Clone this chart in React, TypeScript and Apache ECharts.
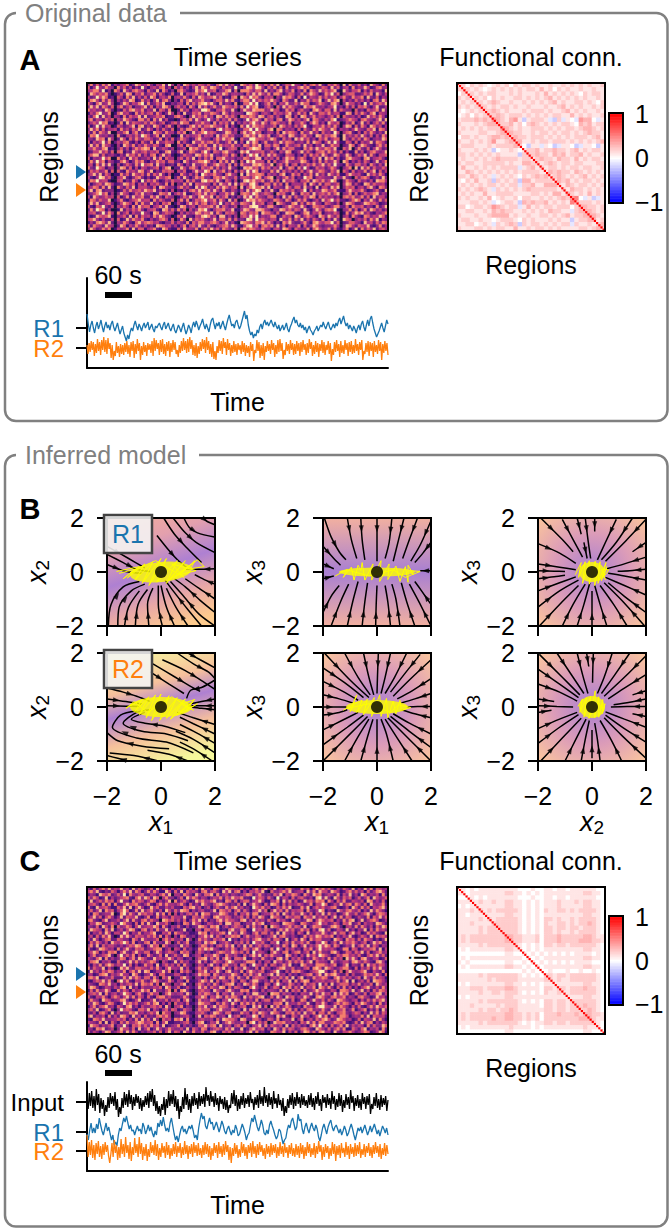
import React, { useEffect, useRef } from "react";
import * as echarts from "echarts";

const FONT = '"Liberation Sans", Arial, sans-serif';

const heatA = [
"3725164836 2457138624 7315482962 4187353642 5216748351 3862417536 2748136594 3152674821 5364281743 6241853172",
"6148327451 7362514283 1453672418 3625148375 2874163529 4136527841 5382617243 6847213365 1726345182 4385126734",
"4576281329 5184267531 6328174152 6743128569 3561247816 2775314628 1436825371 4261753846 3571284265 7152634318",
"1863547213 3628715462 4572631283 2816457341 7125386244 5314162853 6287413652 3715864127 4826135672 2364718425",
"5238476142 6417382516 2861453726 5374162853 4683512167 1862745315 3514286741 6182543736 2451673284 5718326143",
"2784163751 4253871263 5148267315 1627834562 2146538472 3575182646 4863175228 1427365814 7368152436 3524167285",
"6315724861 1386254782 7236481154 4518263778 5831624317 2164738125 6271548336 3856124753 1674238562 4192735648",
"3847165282 5724613348 2615387426 6352741825 1473286546 4728356114 5316284753 2175684342 3482516271 6573148224",
"7452318640 2163785462 4381652712 2736145389 6215473382 1483265773 3865127461 4623178526 5172843316 2316457283",
"1536824713 6845217353 5627413861 4183265714 3764185253 5318642145 2174536823 7351842664 6245318726 3742681543",
"4268173526 3172645818 2346571248 7521384636 2518637463 2763541872 4635218715 1862473542 3517264352 5128463741",
"5724316482 5386421763 6173825132 1564728413 8426153726 4138256417 3526714863 5248176325 2681435764 1674325828",
"2463857140 2718365426 3752461278 3867125463 3172546281 6251473385 1685342714 4731586241 7436215381 3825146372",
"6138274523 6423581772 4286315741 5213684725 5864327141 1738264563 2471863526 3682145473 5263148726 2741863514",
"3846152467 1735264813 7415263282 2638745163 2317846525 3264817542 5817624341 6153274864 2751634258 4326581763",
"5271643820 4368157242 3186527463 6471283569 4652138734 1582473612 3426185764 1724835163 3185246731 5163742428",
"1768324251 7214536387 5247183412 1826345714 3518267452 4276351864 6134752873 2563418736 4672183546 3842615274",
"4327561862 2851637426 6423715283 3754126832 2147385681 2631874553 4872163518 5836241647 1356284273 6275134386",
"6152483714 5367214153 2718346561 7253184463 5736124728 3518264137 1263847652 3417286514 7284316526 1534827642",
"2836175430 4186372527 4365217822 4618532746 1283645473 6274153816 5386127435 6273514382 2645123871 4863215736",
"5473268142 3625147568 7182354261 2351867424 6472813565 1423586714 3158274662 2164738547 5371264813 7326148523",
"1254736281 6713285346 3546127843 5814763258 3165278431 4867123562 2641538712 4826315673 6352814127 2513674348",
"3687152364 1428563715 2671483531 1365428736 4823156274 2513847263 7483216541 3152746385 1276438523 6482731556",
"6142385720 7351846223 5283716462 4627381515 2716584342 5374126815 2536148672 5741263818 4615327864 3178245631",
"2738461553 2684137562 1437562684 3186245768 5241637283 1628473551 6172358434 4863152726 2374186152 5264138247",
"4516273841 5136427385 6728341253 7415283346 1368452716 3742165863 3814627156 1526473583 5283417436 6351742528",
"7328541362 3872615144 2356147814 2853674153 4726153832 2185634274 5263814761 7384126452 3642135718 1847263364",
"1645237180 6217453862 4813265671 5362148438 6183472516 4637285143 1748263525 2615834763 1538264172 4372581625",
"3582716423 1736285452 7264831523 1743526185 3574216843 2816345761 4352681274 6143728352 7426315864 5218463741",
"5213874630 4582136721 3128546714 6284137562 2167485336 3563148725 6814257361 3286714543 2174583216 3675124283",
"2768345121 5613274183 6473125386 4518362278 5748216415 1287463572 2736184563 1547286473 4861237541 6342518774",
"6134528763 2387461526 1546327182 3274816543 3162754828 4751683126 5283617144 4361852726 5236148735 2187364452",
"3475162840 7426381545 3261874353 5736218486 1427386356 2813574683 7164328526 6273418155 1748236571 4526831763",
"4826713351 1263745638 6582413171 2153674825 6384172253 3526147815 2831756462 3581624387 3462315864 5731246218",
"2356847162 3854126473 4312765836 6482135737 2651347482 1674285346 4317562183 1746283564 6258134726 1364578243",
"5184236470 6137284562 2748316452 1365842784 4816257131 6283715432 5624183726 3254871635 2314167583 4726183552",
"1762534823 4721356835 5173642281 4728136568 3572641826 2148563754 1386427513 7462135284 5836421378 6153842736",
"3847125641 2586417263 3824165723 5216847356 1463825374 4763182561 3518642278 2617584316 4215138762 2387564123",
"6215483271 5364172846 6145738232 2873451644 5738164235 1352678423 6742135864 4831276563 1367426185 5624317248",
"2738651420 1825364721 4562187384 7361524868 2146573481 3485216874 2153874636 5273148526 6581234736 1472863524",
"4561283762 7246153384 3187246561 1526348735 4827316563 2761435186 5436128772 1368254713 3254117268 6835214357",
"3127546830 3462817254 5274863213 6483215478 6351782414 1562837243 3781264518 6247531863 7426235184 2176354862",
"5683142271 6128375462 1423675182 2741836552 1482563726 4327618564 2561843726 3815264271 4173286513 5362748143",
"1426753840 4375216836 7645213384 5328164763 3675148241 2874315683 6423175832 2463178546 5826123674 3184526376",
"6274318562 2861537415 2318764546 1472563821 5213467385 3156824167 4738261543 7152486323 2364138752 6548213724",
"3851264723 5347182651 4572186233 6285437146 2846175326 1683542374 3165287416 4327168534 6152347148 1736482564"
];
// Activity shared by all regions at one time point: vertical bands of the raster, added to every row.
const heatAShift = [
0,0,0,1,1,1,0,0,-2,-2, 0,0,0,0,0,0,0,0,1,0, 0,0,0,0,0,0,0,0,-2,-2, 0,0,0,-1,0,0,0,0,1,1,
1,0,0,0,1,0,0,0,0,0, -2,0,0,2,2,2,2,0,0,0, 1,0,-1,0,0,0,0,0,0,0, 0,0,1,0,0,0,0,0,0,0,
1,1,1,0,-2,0,0,0,-1,0, 0,0,0,0,0,0,0,0,0,0
];
const heatC = [
"3162574836 4725183642 2618354172 5342617283 4176238554 3625147268 5381426732 2746158364 6315274281 4283716534",
"5748213265 1364827513 6374218536 2816453167 2563184726 7142536481 1632574823 4518372645 2864135736 3516247852",
"2431865724 6281743562 1542673824 4275318426 6817245143 2358614732 4263815476 3174286513 5427163824 1862435172",
"6375128143 3457216838 5286147351 3618475243 1354726385 5723184652 7318254162 5632418728 3185274613 6247185346",
"1824637562 5823174652 3761524817 2463128574 4682317526 1467235841 2546183725 1285637461 7416382254 3518724261",
"4563172718 2148567324 6215837463 5731624285 3257864132 6182475316 3874162534 6423715386 1253846727 5261843472",
"7218456312 6372815841 1846325372 2164783513 5146327268 3524186473 6125374812 2738146253 4672135185 2736154683",
"3624817562 4586127283 4732618546 3876142452 2381764515 7264135836 1483627254 5617324861 3218546743 6142837531",
"5176234481 1683742856 3528471625 1425637186 6234875126 1548267134 5736184263 3842615172 7351268436 2468315764",
"2483615742 3716548213 6127354284 4382165374 3178546423 4627153862 2864317546 6175483326 1482736512 5327164836",
"6732158234 5148273267 2643187583 5261374826 1326847453 2783516342 7316452183 4238715654 5614283781 3824675124",
"1548723465 2864316172 7318546221 3176285412 5423618736 6125374681 3542187652 1763246835 2364175823 6153428742",
"4326185271 6237515834 4586273163 6214123875 2768135146 5418263417 1864235736 5281376412 3786214527 2742516386",
"2865417382 3415872167 1527438261 2381204516 6347121583 3762184536 5213748462 3746152683 6125438241 4381627453",
"7143628516 5286143724 3681254737 5423112867 1534672835 2853147266 3627184351 6418235274 2483671583 5127463218",
"3516274821 1738426553 5472816324 1762231458 4826315476 7148326512 4581673242 1273648536 5714263821 3642817564",
"5284136723 6423175284 2346157483 3518302746 3264571823 1536247843 7265318146 2851746423 3186427562 6275413138",
"1637425186 4586271326 6173428512 6247113528 5781346215 3627185462 2548136273 4637215286 1362846574 2461385723",
"4728163554 2314658731 3856174243 2835201476 2415637381 5283714636 6134275186 1482536748 6275134382 5738264143",
"6213875342 7148326562 2467813525 4162312758 6843125274 1376258413 3728416352 3164725835 4531287165 1354672815",
"3586142768 1473258436 5138624673 1756203642 3125764386 4627183542 1583267146 7246183523 2784136526 4826135734",
"1472356821 4826371512 6423718256 3287124516 4586217335 2163574826 5742318624 1528463765 3126487453 6215748362",
"5326817243 3651472864 1284635872 5412303678 2637158416 6582143273 3416827153 6314275142 7263518484 1783245126",
"2678143512 6214837353 4762153148 2634114825 1375426863 3248761514 6183524736 4725816233 1842365278 5364217841",
"4153726864 5382614127 3518246372 6173202541 5824167235 1762385426 2651374812 1863427565 3571268143 2718463652",
"7264381521 1748326654 2637415864 3825114736 3167582416 4385216173 5124783362 3256178418 6423587216 1536274832",
"1835264763 4261573828 6124583713 1746302658 2548316724 2716843561 3468215276 7421356884 1372615843 4682153271",
"3412678254 5734186213 3841762245 5213124867 6175243386 3164725823 6827341523 1346725618 5784236152 2375648416",
"6758124363 2163847526 5273164812 2684203415 1463872572 7328146553 1452637281 5813274366 2168473524 6184273541",
"2146583721 6837215473 1586423761 4317112586 3816254173 1652478324 3726154817 2687135243 4537268181 3526187642",
"5321764835 1425638276 4726185324 3681204752 5274136681 4287365116 6158423752 4173562816 1824676253 7243618534",
"4873125426 3671824153 2354718643 6125213847 2643871526 5312684237 2364185726 3825471653 7316282514 1468325273",
"1627348512 7254163485 6183425726 1783102564 4185326742 2768143152 5431728164 6172358342 2541786382 4825163764",
"3564817246 2386415731 3745126863 4528301647 6327154183 4516278324 1876253413 1543826174 5183867126 3261547825",
"6215473158 5148372641 5216873542 2374114586 1548627376 3184625781 3627418562 4385217653 2674582431 6743128452",
"2743186524 4673125812 1482536274 6158202734 3762145828 6253417146 7142583261 2761384152 6318763245 1526374683",
"5386214763 1285746235 6378241516 3426113875 5216374184 1748362523 4265718343 6438215274 1257486316 4863251724",
"1472568342 6317824153 2564718324 5713202648 2483765151 3562174816 1836247512 3174526885 4382763152 6214738546",
"4638125721 3846521664 7153246285 1264303756 6125843276 4183756232 5271384726 1526734163 2864582371 3571426183",
"3251674183 5123768342 3648175423 4872114563 1387426512 2746153864 3864216573 6283471452 7315683246 5142837264",
"6824351726 2764183516 1326857412 2345203816 5762341835 6125487163 4317582164 2845136727 1642785134 3728165452",
"2176483345 6351427283 5283164537 6817112453 3416287564 1873256412 7526134381 4713526268 5238763412 6154382731",
"5432718164 1527346874 4617258132 2356204781 2548136753 3451782636 1285673424 1648372563 3476582126 2836714253",
"1865243572 4283165736 2746381254 7142312658 4671823415 6274135827 3642518163 5231684716 1624738253 5417263386",
"4317682351 3745261824 6138524763 3528164276 1356427382 2813674561 5184273652 3675218432 6257381164 2681435172",
"6253148724 5618374132 3462715846 5184273362 3782164523 4526817231 2763481526 1487362574 4183265742 3576124861"
];
const heatCShift = [
0,0,0,0,0,0,0,0,0,-1, 0,1,1,0,0,0,0,0,0,0, 1,0,0,0,-1,0,0,0,-2,0, 0,0,0,0,0,0,0,0,0,0,
0,0,0,0,0,0,0,1,0,0, 0,0,0,-1,0,1,0,0,0,0, -1,0,0,1,0,0,0,0,0,0, 0,0,0,0,0,0,0,2,1,0,
0,0,0,0,0,-1,0,0,0,0, 0,0,0,0,0,0,0,0,0,0
];

// Functional connectivity, 34 x 34. Each digit d stands for a correlation of (d - 2) / 10; the upper triangle is mirrored.
const fcA = [
"34243 43234 34243 44343 34334 34343 4334",
"34434 32343 43434 34435 34243 43343 3433",
"43343 43443 33434 33343 53434 34324 3443",
"34434 34243 43344 34343 45343 43434 3343",
"43343 43454 33433 43434 34534 33443 4324",
"34433 44343 44343 34333 43345 34343 3434",
"43344 34454 34333 43444 34334 53434 3343",
"34434 43445 43444 34343 43443 35343 4334",
"30213 01365 43563 03444 31041 32165 5213",
"34343 43475 44534 24543 43434 43254 5344",
"43434 34344 65434 33444 34343 44345 5434",
"34343 43453 45544 33434 43434 43434 5443",
"43434 34346 43454 43444 34343 43444 3453",
"34343 43435 44445 33434 43444 34343 4345",
"23013 30324 02314 20331 32013 32013 3203",
"34434 34353 43434 34453 44544 34534 3443",
"43343 43434 34334 44454 43545 34453 4334",
"34434 34343 43443 44345 44354 43534 3443",
"43343 43434 34434 33343 45434 43443 3344",
"34434 33434 43343 34434 34434 34434 4334",
"43344 34343 44343 44434 35454 43543 4343",
"34433 43454 33434 34543 43454 34345 3434",
"43344 34363 44343 43434 54354 53434 4343",
"34434 43454 43344 34343 44543 54344 3434",
"43343 34343 44434 33434 35454 35443 4343",
"34434 43463 43343 44343 43445 54343 5343",
"30131 01366 31023 21303 21366 56721 3013",
"34343 43465 44344 34343 43445 67544 4343",
"43434 34355 54434 43434 34343 56455 4434",
"34343 43454 45343 34343 43434 54545 5434",
"43434 34345 44544 44343 34343 43454 5543",
"34343 43434 34454 33434 43434 34345 4534",
"43434 34343 43345 44343 34343 43434 4345",
"34343 43434 34343 43434 34343 43434 3434"
];
const fcC = [
"23232 33333 33332 22322 33233 23333 3322",
"23233 33333 34433 23232 33333 33334 4332",
"22232 32333 33332 22322 33233 23333 3322",
"23233 43343 34433 23232 33343 33434 4332",
"23233 33333 34433 23232 33343 33334 4332",
"23233 43434 44443 23232 43344 34344 4432",
"23233 33333 34433 23232 33333 33334 4332",
"23233 43434 44443 23232 44343 34344 4432",
"23233 43344 44443 23232 43344 34344 5432",
"23233 43434 44443 23232 44344 34434 4432",
"23233 43444 44443 23232 44343 34344 4432",
"33343 44444 45544 33342 44454 44445 5433",
"33343 44454 54544 33342 44454 44455 5443",
"23233 43444 45443 23232 44344 34444 4432",
"23233 33333 34433 23232 33333 33334 4332",
"22322 23232 33332 32323 23232 32333 3232",
"23233 33333 34433 23232 33333 33334 4332",
"22322 23232 33332 32323 23232 32333 3222",
"23233 33333 34433 23232 33333 33334 4332",
"22222 23222 32323 22322 23222 32232 2322",
"23233 43444 44443 23232 44344 34444 4432",
"23233 43434 44443 23232 44343 34444 4432",
"23233 33333 34433 23232 33333 33334 4332",
"23233 43444 44443 23232 44344 34445 4432",
"23233 43434 44443 23232 44343 34444 4432",
"23233 33333 34433 23232 33333 33334 4332",
"23233 43444 44443 23232 44344 34444 4432",
"23233 43434 44443 23232 44344 34445 4432",
"23233 43444 44443 23232 44344 34444 5432",
"33343 44455 54544 33342 45454 44455 5443",
"33343 44545 54544 33342 45454 44555 5433",
"23233 43434 44443 23232 44343 34444 4432",
"23233 33333 34433 23232 33333 33334 4332",
"22232 22322 33332 23222 33233 23333 3322"
];

// Time courses, as offsets from each region's own baseline.
const aR1 = [14,4,-4,3,7,0,-5,2,6,-1,3,8,1,-4,2,6,0,3,-2,4,7,1,-3,1,5,-1,-6,-2,2,-5,-9,-13,-7,-11,-4,0,-3,3,7,2,-2,4,1,-3,2,5,0,3,6,-2,1,4,-1,-4,2,0,3,5,1,-2,3,6,-1,2,5,0,-3,1,4,-2,-5,-1,3,0,-4,1,5,-1,-6,-2,3,0,-5,2,6,1,7,3,-2,2,5,9,3,-1,4,0,-4,3,8,10,4,-1,5,2,6,-1,3,7,2,-2,4,9,13,7,2,4,0,6,8,3,-1,2,7,12,17,9,13,3,-3,-7,-4,-10,-6,-8,-2,-5,1,4,-1,5,8,3,6,2,5,8,4,1,6,2,-1,3,-3,0,3,-2,1,5,-1,-4,1,4,8,11,5,8,3,1,5,0,3,-2,1,-5,-1,2,-2,-4,-7,-3,-1,2,-3,0,3,1,6,2,-1,3,6,1,-2,1,4,0,5,2,7,10,4,8,12,6,2,5,-1,3,0,-3,2,-1,-5,0,3,-2,4,7,1,-3,3,8,2,9,12,5,-1,-5,-9,-6,-3,1,5,0,-4,2,8,4];
const aR2 = [3,-6,5,-4,7,-2,6,-8,4,-5,9,-3,6,-7,8,-2,11,-4,8,-6,10,-1,5,-10,3,-12,-3,-8,6,-5,2,-9,4,-6,3,-7,5,-4,7,-6,3,-9,6,-3,7,-10,4,-6,9,-3,5,-12,2,-7,6,-4,3,-8,5,-2,4,-5,7,-8,10,-3,8,-1,5,-7,8,-4,9,-6,4,-8,6,-3,7,-9,5,-4,8,-2,6,-6,-2,-9,3,-5,7,-3,10,-2,7,-5,9,-4,11,-1,8,-7,3,-8,5,-10,2,-6,6,-3,9,-1,8,-5,11,-2,7,-6,4,-9,6,-11,-3,-12,2,-5,8,-3,7,-6,10,0,6,-7,9,-2,5,-8,3,-5,7,-4,4,-7,5,-2,3,-6,7,-4,5,-8,3,-5,2,-9,6,-3,4,-13,-2,-5,8,-3,6,-10,3,-8,5,-12,2,-4,7,-3,4,-6,8,-2,5,-9,3,-6,8,-4,9,-3,5,-11,-2,-7,6,-3,4,-6,8,-2,5,-7,4,-6,7,-3,5,-8,6,-4,8,-2,4,-7,5,-5,9,-1,6,-8,3,-6,7,-4,5,-9,4,-3,8,-5,6,-7,3,-2,7,-6,5,-13,-1,-7,6,-4,8,-3,4,-9,7,-5,3,-6,8,-2,5,-8,6,-4,7,-6,3,-5,9,-3,4,-7,6,-2,8,-12,-3,-6,5,-4,7,-8,6,-3,5,-9,7,-4,3,-6,8,-3,6,-12,4,-5,7,-3,5,-7];
const cIn = [3,-7,9,-4,11,-6,6,-9,13,-3,8,-11,4,-7,2,-14,-3,-10,5,-6,9,-2,6,-4,10,-8,3,-15,-5,-12,4,-6,10,-3,8,-5,12,-2,7,-8,5,-4,8,-1,6,-7,4,-9,2,-5,6,-3,9,-6,11,0,13,-4,7,-9,1,-12,-4,-14,-2,-8,5,-13,3,-6,11,-4,8,-2,12,-5,6,-9,3,-17,-4,-10,5,-7,14,-3,8,-8,3,-11,6,-4,9,-3,4,-7,10,-4,6,-2,8,-5,15,1,7,-4,11,0,6,-5,9,-3,4,-9,6,-2,3,-7,5,-8,2,-11,-3,-6,9,-2,12,-4,7,-9,3,-7,6,-3,9,-6,4,-2,7,-5,10,-1,3,-8,5,-3,7,-6,12,-2,6,-4,15,-1,7,-5,9,-3,5,-7,11,-2,4,-6,8,-3,2,-9,4,-14,-4,-11,3,-6,7,-3,9,-7,5,-4,10,-2,5,-6,8,-3,6,-4,2,-6,7,-3,9,-5,4,-8,6,-2,10,-4,3,-9,7,-1,5,-6,8,-3,4,-7,11,-2,6,-8,3,-5,9,-4,7,-10,2,-6,8,-3,5,-7,12,-1,6,-9,4,-4,7,-6,3,-8,9,-2,5,-7,6,-3,8,-12,-2,-7,5,-4,9,-6,3,-8,7,-5,4,-3,6,-9,2];
const cR1 = [-2,-8,2,9,-1,4,-1,8,3,14,7,1,-3,3,9,1,5,-2,-8,-3,-13,-10,-14,-3,4,1,8,14,10,16,9,3,7,1,2,-3,2,6,1,3,-2,9,5,-2,2,7,1,5,-1,-5,1,-3,9,5,12,6,15,7,1,4,0,9,14,6,-2,-8,-4,-10,-3,3,6,0,3,-2,2,6,3,7,1,-6,-3,-8,4,12,19,13,16,6,3,9,14,8,10,2,6,10,5,0,5,11,7,1,-2,3,6,1,-3,2,-1,7,3,-4,-2,3,8,4,-1,-8,-3,-1,7,14,10,17,11,5,1,6,12,7,-1,-3,2,-2,7,11,6,2,-3,-7,-4,3,1,-6,-12,-8,-6,2,7,4,11,14,8,2,5,18,11,13,3,-2,5,9,3,-1,5,9,4,1,7,3,-5,-9,-3,4,8,3,-2,5,9,12,5,1,5,7,3,-1,3,-3,1,6,2,-4,-1,4,8,3,-3,-8,-2,4,1,5,-1,3,7,2,-3,1,6,0,4,8,3,-2,2,-4,1,6,3,-1,4,-3];
const cR2 = [16,-6,9,-4,11,-7,6,-9,8,-3,10,-6,5,-8,7,-4,9,-1,6,-5,-12,-3,8,-6,11,-2,6,-9,4,-7,12,-3,7,-6,14,-2,6,-8,9,-10,4,-4,13,-2,7,-6,14,-3,8,-9,4,-5,7,-10,2,-6,9,-2,6,-4,11,-5,7,-9,3,-6,8,-2,5,-7,9,-4,6,-8,3,-5,7,-3,9,-6,5,-2,8,-7,4,-4,10,-3,6,-8,5,-3,7,-6,9,-2,6,-5,8,-4,3,-7,6,-4,9,-3,7,-6,5,-9,3,-5,8,-2,6,-7,9,-3,5,-6,7,-4,10,-1,6,-9,4,-12,3,-5,8,-3,6,-7,2,-6,9,-2,7,-5,4,-8,6,-2,8,-6,10,-3,5,-7,7,-4,9,-1,6,-5,3,-8,7,-3,5,-6,8,-4,6,-2,7,-7,4,-5,9,-3,5,-6,8,-2,4,-7,6,-3,8,-5,3,-6,7,-4,5,-7,8,-3,6,-8,4,-5,9,-2,7,-6,3,-4,8,-7,5,-3,10,-1,6,-9,4,-6,7,-2,5,-8,3,-5,9,-3,7,-10,5,-4,6,-7,8,-2,3,-6,9,-4,5,-8,7,-3,4,-6,8,-5,6,-3,9,-7,2,-4,7,-6,5,-2,8,-5,4,-7,6,-3,9,-2,5,-6,7,-8,3,-4,8,-5,6,-3];

// Phase portraits: streamlines (each runs in the flow direction) and one trajectory per panel.
const streamR1x1x2 = [
[[-.15,1.35],[.25,.85],[.6,.46],[1,.12]],
[[.1,2],[.5,1.4],[1,.85],[1.5,.35]],
[[.45,2],[.9,1.45],[1.3,1.1],[2,.72]],
[[.85,2],[1.05,1.65],[1.35,1.45],[1.98,1.3]],
[[1.55,2],[1.7,1.88],[2,1.75]],
[[-2,.65],[-1.4,.35],[-.9,.1],[-.4,.02]],
[[-2,.28],[-1.3,.02],[-.7,-.05]],
[[-2,.95],[-1.2,.5],[-.6,.15]],
[[-1.95,-2],[-1.85,-1.2],[-1.4,-.55],[-.8,-.35]],
[[-1.6,-2],[-1.55,-1.3],[-1.1,-.7],[-.6,-.45]],
[[-1.35,-2],[-1.2,-1.3],[-.8,-.7]],
[[-.95,-2],[-.85,-1.2],[-.5,-.65]],
[[-.45,-2],[-.5,-1.2],[-.3,-.6]],
[[.05,-2],[-.1,-1.2],[-.1,-.5]],
[[.5,-2],[.2,-1.3],[0,-.5]],
[[1,-2],[.55,-1.3],[.2,-.6]],
[[1.5,-2],[1,-1.4],[.45,-.7],[.15,-.3]],
[[2,-2],[1.4,-1.55],[.8,-.85],[.35,-.35]],
[[2,-1.5],[1.45,-1.05],[.9,-.55],[.5,-.25]],
[[2,-1],[1.4,-.6],[.9,-.25]],
[[2,-.45],[1.6,-.28],[1.25,-.1]],
[[2,.12],[1.4,.1],[.9,.1]]
];
const streamR2x1x2 = [
[[.05,1.75],[.9,1.35],[1.55,.95],[2,.65]],
[[-.3,1.6],[.5,1.12],[1,.82],[1.45,.58]],
[[1,2],[1.45,1.75],[2,1.45]],
[[.6,2],[1.2,1.6],[1.75,1.3],[2,1.05]],
[[-.4,1.3],[.3,.85],[.85,.5]],
[[2,1],[1.5,.72],[1.1,.62],[.95,.32]],
[[-2,.7],[-1.4,.55],[-.9,.4],[-.4,.2]],
[[-2,.3],[-1.3,.2],[-.7,.1]],
[[-2,.05],[-1.3,.03],[-.8,.02]],
[[2,.3],[1.5,.2],[1,.1]],
[[2,.05],[1.5,.05],[1,.05]],
[[2,-.1],[1.5,-.05],[1.1,0]],
[[.9,-.95],[.1,-.7],[-.6,-.6],[-1.1,-.45],[-.6,-.2]],
[[1,-1.25],[.2,-1],[-.7,-.9],[-1.4,-.6],[-.9,-.2],[-.4,-.1]],
[[1.2,-1.7],[.2,-1.3],[-.9,-1.15],[-1.8,-.75],[-1.5,-.3],[-.9,-.15]],
[[.3,-1.55],[-.7,-1.45],[-1.6,-1.25],[-2,-.95]],
[[2,-.65],[1.2,-.4],[.6,-.2]],
[[2,-1],[1.2,-.62],[.7,-.38]],
[[2,-1.35],[1.3,-.95],[.7,-.65]],
[[2,-1.7],[1.2,-1.2],[.55,-.9]],
[[1.9,-2],[1.2,-1.55],[.7,-1.3]],
[[1,-2],[.3,-1.75],[-.5,-1.6]],
[[-.1,-2],[-1,-1.8],[-1.9,-1.7]],
[[-1.2,-2],[-1.6,-1.9],[-2,-1.8]]
];
const streamR1x1x3 = [
[[-1.95,2],[-1.7,1.3],[-1.4,.75],[-1.15,.45]],
[[-1.1,2],[-.95,1.2],[-.75,.5]],
[[-.6,2],[-.55,1.2],[-.45,.45]],
[[0,2],[0,1.2],[0,.4]],
[[.55,2],[.45,1.1],[.3,.5]],
[[1,2],[.8,1.2],[.6,.4]],
[[1.5,2],[1.2,1.2],[.95,.5]],
[[2,1.9],[1.6,1],[1.25,.4]],
[[2,1.1],[1.7,.7],[1.4,.35]],
[[-2,.95],[-1.6,.5],[-1.35,.25]],
[[-2,.3],[-1.6,.12]],
[[2,.05],[1.6,.05]],
[[-2,-.25],[-1.6,-.15]],
[[-2,-1.5],[-1.7,-.9],[-1.4,-.5]],
[[-1.7,-2],[-1.35,-1.1],[-1.05,-.45]],
[[-1.1,-2],[-.9,-1.1],[-.7,-.35]],
[[-.55,-2],[-.45,-1.1],[-.35,-.4]],
[[-.05,-2],[-.03,-1.2],[0,-.5]],
[[.5,-2],[.4,-1.1],[.3,-.5]],
[[.85,-2],[.7,-1],[.55,-.45]],
[[1.4,-2],[1.1,-1.1],[.9,-.4]],
[[2,-2],[1.55,-1.1],[1.2,-.45]],
[[2,-1.2],[1.65,-.7],[1.4,-.35]]
];
const streamR2x1x3 = [
[[-1.95,2],[-1,1],[-.3,.35]],[[-1.2,2],[-.7,1.1],[-.25,.45]],[[-.5,2],[-.3,1.1],[-.12,.45]],
[[.05,2],[.02,1.2],[0,.5]],[[.5,2],[.3,1.1],[.15,.5]],[[1.1,2],[.65,1.1],[.3,.5]],
[[1.6,1.95],[1,1.2],[.5,.55]],[[2,1.75],[1.2,1],[.6,.4]],[[2,1.05],[1.3,.6],[.75,.3]],
[[2,.5],[1.4,.3],[.9,.15]],[[2,.02],[1.5,.02],[1.1,0]],[[2,-.4],[1.4,-.25],[.9,-.1]],
[[2,-1],[1.2,-.6],[.6,-.25]],[[2,-1.5],[1.2,-.9],[.5,-.35]],[[2,-2],[1.1,-1.1],[.4,-.4]],
[[1.3,-2],[.75,-1.15],[.3,-.45]],[[.6,-2],[.35,-1],[.15,-.45]],[[0,-2],[0,-1.2],[0,-.45]],
[[-.6,-2],[-.35,-1.1],[-.15,-.45]],[[-1.2,-2],[-.7,-1.1],[-.3,-.45]],[[-2,-2],[-1.05,-1.05],[-.35,-.35]],
[[-2,-1.4],[-1.1,-.75],[-.5,-.3]],[[-2,-.85],[-1.3,-.5],[-.7,-.2]],[[-2,-.3],[-1.4,-.2],[-1.1,-.1]],
[[-2,0],[-1.5,0],[-1.1,0]],[[-2,.45],[-1.4,.3],[-.9,.15]],[[-2,.95],[-1.3,.6],[-.7,.25]],[[-2,1.45],[-1.2,.9],[-.5,.35]]
];
const streamR1x2x3 = [
[[-1.9,2],[-1.1,1.2],[-.7,.75]],[[-1.1,1.95],[-.7,1.2],[-.35,.55]],[[-.55,2],[-.4,1.4]],[[-.3,1.1],[-.18,.5]],
[[-.25,2],[-.15,1.2],[-.05,.5]],[[.1,2],[.1,1.5]],[[.9,1.95],[.5,1.1],[.2,.45]],[[1.5,2],[.9,1.1],[.35,.45]],
[[2,1.95],[1.25,1.15],[.5,.4]],[[2,1.1],[1.5,.75]],[[2,.55],[1.2,.3],[.55,.12]],[[2,.1],[1.4,.05],[.95,.03]],
[[2,-.3],[1.2,-.15],[.6,-.05]],[[2,-.85],[1.2,-.5],[.5,-.2]],[[2,-1.5],[1.2,-.9],[.6,-.4]],[[1.95,-2],[1.1,-1.05],[.45,-.4]],
[[1.3,-2],[.8,-1.2],[.3,-.5]],[[.55,-2],[.3,-1.2],[.1,-.5]],[[0,-2],[0,-1.3],[0,-.7]],[[-.55,-2],[-.3,-1.2],[-.08,-.4]],
[[-1.1,-2],[-.7,-1.2],[-.25,-.45]],[[-1.95,-2],[-1.2,-1.2],[-.5,-.5]],[[-2,-1.3],[-1.2,-.7],[-.5,-.3]],[[-2,-.7],[-1.2,-.4],[-.6,-.18]],
[[-2,-.25],[-1.4,-.18],[-1,-.12]],[[-2,.05],[-1.4,.03],[-1,.02]],[[-2,.3],[-1.2,.18],[-.6,.08]],[[-2,1.05],[-1.2,.7],[-.6,.32]]
];
const streamR2x2x3 = [
[[-1.95,1.95],[-1.1,1.1],[-.45,.45]],[[-1.3,2],[-.8,1.25],[-.3,.5]],[[-.55,2],[-.35,1.2],[-.15,.5]],[[-.2,2],[-.12,1.5]],
[[.05,2],[.03,1.4],[.02,.9]],[[.75,2],[.45,1.1],[.2,.5]],[[1.4,2],[.85,1.2],[.35,.5]],[[2,1.9],[1.2,1.1],[.45,.4]],
[[2,1.2],[1.2,.7],[.6,.3]],[[2,.6],[1.5,.45]],[[2,.3],[1.4,.18],[.8,.08]],[[2,.02],[1.3,.02],[.7,0]],
[[2,-.35],[1.5,-.25]],[[2,-.75],[1.2,-.45],[.5,-.18]],[[2,-1.3],[1.2,-.8],[.5,-.3]],[[2,-1.9],[1.1,-1.05],[.45,-.4]],
[[1.1,-2],[.7,-1.2],[.3,-.5]],[[.3,-2],[.2,-1.2],[.1,-.6]],[[0,-1.9],[0,-1.2],[0,-.85]],[[-.4,-2],[-.25,-1.2],[-.1,-.5]],
[[-1,-2],[-.6,-1.2],[-.22,-.45]],[[-1.9,-2],[-1.1,-1.15],[-.4,-.42]],[[-2,-1.35],[-1.2,-.75],[-.5,-.28]],[[-2,-.8],[-1.2,-.45],[-.55,-.2]],
[[-2,-.2],[-1.5,-.12]],[[-2,.05],[-1.3,.02],[-.7,0]],[[-2,.3],[-1.4,.2]],[[-2,.85],[-1.2,.55],[-.55,.22]],[[-2,1.4],[-1.2,.85],[-.5,.35]]
];

const trajR1x1x2 = [[-1.55,-.05],[-.9,.12],[-1.25,-.22],[-.6,.3],[-.95,-.28],[-.3,.38],[-.7,-.42],[0,.5],[-.45,-.5],[.2,.5],[-.15,-.38],[.6,.42],[.2,-.42],[.9,.42],[.3,-.3],[1.1,.28],[.5,-.22],[1.35,.45],[1.6,.2],[1.1,.12],[1.25,.42],[.7,-.1],[1.3,.05],[.4,.3],[.85,-.2],[-.2,.42],[-1.05,.05],[-1.4,-.25],[-.8,.2],[-1.65,.02]];
const trajR2x1x2 = [[-1.2,.02],[-.7,.28],[-.95,-.15],[-.45,.38],[-.8,-.28],[-.2,.45],[-.55,-.4],[0,.48],[-.35,-.5],[.3,.42],[-.05,-.5],[.6,.35],[.2,-.42],[.9,.3],[.35,-.45],[1.2,.22],[.6,-.3],[1.35,.12],[.9,-.15],[1.25,.28],[.75,.1],[1.2,-.12],[.4,.38],[-.5,-.2],[-1,.2],[-1.3,-.05],[-.9,.18]];
const trajR1x1x3 = [[-1.55,-.15],[-1.1,.1],[-1.25,-.2],[-.95,.18],[-.85,-.3],[-.7,.25],[-.6,.05],[-.55,.35],[-.45,-.3],[-.15,.3],[-.2,-.3],[.15,.42],[.1,-.35],[.45,.3],[.4,-.28],[.7,.22],[.85,-.35],[1.05,.2],[1.15,-.38],[1.15,.25],[1.35,-.1],[1.2,.05],[1.6,.02],[1.05,-.2],[.6,.08],[-.3,-.15],[-1,.05],[-1.35,.02]];
const trajR2x1x3 = [[-1.25,-.12],[-.85,.1],[-1,-.18],[-.75,.45],[-.9,.1],[-.55,.25],[-.75,-.2],[-.35,.3],[-.5,-.28],[-.1,.35],[-.2,-.35],[.1,.45],[.15,-.35],[.35,.32],[.4,-.4],[.6,.22],[.7,-.25],[.85,.25],[.9,-.12],[1.25,-.02],[.8,.08],[.5,-.2],[-.3,.12],[-1.1,-.05]];
const trajR1x2x3 = [[-.62,-.1],[-.4,.35],[-.5,-.2],[-.25,.38],[-.35,-.42],[-.1,.42],[-.1,-.45],[.12,.4],[.1,-.5],[.3,.38],[.22,-.42],[.52,.35],[.35,-.32],[.55,.2],[.42,-.2],[.62,.08],[.35,.1],[.5,-.3]];
const trajR2x2x3 = [[-.52,.02],[-.35,.3],[-.45,-.2],[-.2,.35],[-.3,-.38],[-.05,.4],[-.1,-.42],[.12,.6],[.1,-.4],[.25,.38],[.25,-.38],[.4,.28],[.38,-.25],[.48,.12],[.42,-.15],[.25,.15],[-.15,-.42]];

const magma = ["#1a1040","#451078","#6a1c80","#8c2981","#a83080","#c03f78","#dc5a6c","#f4806c","#fcb488","#fce8b0"];
const bwr = ["#0000ff","#ffffff","#ff0000"];
const stops = (list: [number, string][]) => list.map(([offset, color]) => ({ offset, color }));

const blue = "#1a74ae";
const orange = "#ff7f0e";
const BLACK = "#000";
const FS = 25;

function rowsOf(list: string[]) {
  return list.map((r) => r.replace(/ /g, ""));
}
function fcCells(list: string[]) {
  const m = rowsOf(list);
  const out: number[][] = [];
  for (let i = 0; i < 68; i++) {
    for (let j = 0; j < 68; j++) {
      if (i === j) { out.push([j, i, 1]); continue; }
      const a = Math.min(i >> 1, j >> 1), b = Math.max(i >> 1, j >> 1);
      const ch = m[a][b] ?? "3";
      out.push([j, i, (Number(ch) - 2) / 10]);
    }
  }
  return out;
}
const ids = (n: number) => Array.from({ length: n }, (_, i) => String(i));

function buildOption() {
  const grid: any[] = [], xAxis: any[] = [], yAxis: any[] = [], series: any[] = [], g: any[] = [];
  const heatIdx: number[] = [], bwrIdx: number[] = [];
  const textBase = { fontFamily: FONT, color: "#000" };
  const add = (gr: any, x: any, y: any) => {
    grid.push(gr);
    const gridIndex = grid.length - 1;
    xAxis.push({ ...x, gridIndex });
    yAxis.push({ ...y, gridIndex });
    return xAxis.length - 1;
  };
  const frame = (x: number, y: number, w: number, h: number) =>
    g.push({ type: "rect", silent: true, z: 10, shape: { x, y, width: w, height: h }, style: { fill: "none", stroke: BLACK, lineWidth: 2 } });
  const text = (t: string, x: number, y: number, size: number, extra: any = {}) =>
    g.push({ type: "text", silent: true, z: 30, x, y, style: { text: t, fontFamily: FONT, fontSize: size, fill: "#000", textAlign: "center", textVerticalAlign: "middle", ...extra } });
  const noAxis = { axisLine: { show: false }, axisTick: { show: false }, axisLabel: { show: false }, splitLine: { show: false } };

  const heat = (rect: number[], rows: string[], shift: number[]) => {
    const r = rowsOf(rows);
    const data: number[][] = [];
    r.forEach((row, i) => row.split("").forEach((c, j) => data.push([j, i, Number(c) + (shift[j] || 0)])));
    const gi = add({ left: rect[0], top: rect[1], width: rect[2], height: rect[3] },
      { type: "category", data: ids(r[0].length), ...noAxis },
      { type: "category", data: ids(r.length), inverse: true, ...noAxis, name: "Regions", nameLocation: "middle", nameGap: 26, nameRotate: 90, nameTextStyle: { ...textBase, fontSize: FS } });
    series.push({ type: "heatmap", xAxisIndex: gi, yAxisIndex: gi, data, progressive: 0, silent: true });
    heatIdx.push(series.length - 1);
    frame(rect[0], rect[1], rect[2], rect[3]);
    text("Time series", rect[0] + rect[2] / 2, rect[1] - 26, FS);
  };
  const fc = (rect: number[], tri: string[], cb: number[]) => {
    const gi = add({ left: rect[0], top: rect[1], width: rect[2], height: rect[3] },
      { type: "category", data: ids(68), ...noAxis, name: "Regions", nameLocation: "middle", nameGap: 21, nameTextStyle: { ...textBase, fontSize: FS } },
      { type: "category", data: ids(68), inverse: true, ...noAxis, name: "Regions", nameLocation: "middle", nameGap: 26, nameRotate: 90, nameTextStyle: { ...textBase, fontSize: FS } });
    series.push({ type: "heatmap", xAxisIndex: gi, yAxisIndex: gi, data: fcCells(tri), progressive: 0, silent: true });
    bwrIdx.push(series.length - 1);
    frame(rect[0], rect[1], rect[2], rect[3]);
    text("Functional conn.", rect[0] + rect[2] / 2, rect[1] - 26, FS);
    const vals = Array.from({ length: 61 }, (_, i) => (i - 30) / 30);
    const label = (v: number) => (v === -1 ? "\u22121" : v === 0 ? "0" : v === 1 ? "1" : "");
    const ci = add({ left: cb[0], top: cb[1], width: cb[2], height: cb[3] },
      { type: "category", data: ["c"], ...noAxis },
      { type: "category", data: vals.map(label), position: "right", axisLine: { show: false }, axisTick: { show: false }, splitLine: { show: false },
        axisLabel: { ...textBase, fontSize: FS, interval: 0, margin: 12 } });
    series.push({ type: "heatmap", xAxisIndex: ci, yAxisIndex: ci, data: vals.map((v, i) => [0, i, v]), progressive: 0, silent: true });
    bwrIdx.push(series.length - 1);
    frame(cb[0], cb[1], cb[2], cb[3]);
  };
  // One y axis per trace, so that each tick label is laid out on its own and none is hidden as an overlap.
  const traces = (rect: number[], lines: { name: string; level: number; values: number[]; color: string }[]) => {
    const axisLine = { show: true, onZero: false, lineStyle: { color: BLACK, width: 2 } };
    grid.push({ left: rect[0], top: rect[1], width: rect[2], height: rect[3] });
    const gridIndex = grid.length - 1;
    lines.forEach((l, n) => {
      xAxis.push({ gridIndex, type: "value", min: 0, max: 1, show: n === 0, axisLine, axisTick: { show: false }, axisLabel: { show: false }, splitLine: { show: false },
        name: n === 0 ? "Time" : "", nameLocation: "middle", nameGap: 21, nameTextStyle: { ...textBase, fontSize: FS } });
      yAxis.push({ gridIndex, type: "value", position: "left", min: 0, max: rect[3], axisLine: { ...axisLine, show: n === 0 }, splitLine: { show: false },
        axisTick: { show: true, length: 11, customValues: [l.level], lineStyle: { color: BLACK, width: 2 } },
        axisLabel: { customValues: [l.level], margin: 23, fontFamily: FONT, fontSize: 24, lineHeight: 18, color: l.color, formatter: () => l.name } });
      const idx = xAxis.length - 1;
      series.push({
        type: "line", xAxisIndex: idx, yAxisIndex: idx, showSymbol: false, silent: true, z: 3,
        lineStyle: { color: l.color, width: 1.3 },
        data: l.values.map((v, i) => [i / (l.values.length - 1), l.level + v]),
      });
    });
  };
  const phase = (rect: number[], bg: any, stream: number[][][], traj: number[][], blob: number[],
    xName: string | null, yName: string) => {
    const sub = (n: string) => `{i|x}{s|${n}}`;
    const rich = { i: { fontFamily: FONT, fontStyle: "italic", fontSize: 27, color: "#000" }, s: { fontFamily: FONT, fontSize: 19, color: "#000", verticalAlign: "bottom", padding: [10, 0, 0, 0] } };
    const minus = (v: number) => String(v).replace("-", "\u2212");
    const ax = { type: "value", min: -2, max: 2, interval: 2, splitLine: { show: false },
      axisLine: { show: false, onZero: false },
      axisTick: { show: true, length: 10, lineStyle: { color: BLACK, width: 2 } } };
    const gi = add({ left: rect[0], top: rect[1], width: rect[2], height: rect[3], show: true, backgroundColor: bg, borderWidth: 0 },
      { ...ax, axisLabel: { show: !!xName, ...textBase, fontSize: FS, margin: 22, formatter: minus, showMinLabel: true, showMaxLabel: true },
        name: xName ? sub(xName) : "", nameLocation: "middle", nameGap: 40, nameTextStyle: { rich } },
      { ...ax, axisLabel: { ...textBase, fontSize: FS, margin: 23, formatter: minus },
        name: sub(yName), nameLocation: "middle", nameGap: 50, nameRotate: 90, nameTextStyle: { rich } });
    const lineData: any[] = [];
    const arrows: any[] = [];
    stream.forEach((s) => {
      s.forEach((p) => lineData.push(p));
      lineData.push([NaN, NaN]);
      const k = Math.floor((s.length - 2) / 2);
      const a = s[k], b = s[k + 1];
      arrows.push({ value: [(a[0] + b[0]) / 2, (a[1] + b[1]) / 2], symbolRotate: (Math.atan2(b[1] - a[1], b[0] - a[0]) * 180) / Math.PI - 90 });
    });
    series.push({ type: "line", xAxisIndex: gi, yAxisIndex: gi, silent: true, showSymbol: false, smooth: 0.3, connectNulls: false, z: 2, lineStyle: { color: BLACK, width: 1.5 }, data: lineData });
    series.push({ type: "scatter", xAxisIndex: gi, yAxisIndex: gi, silent: true, symbol: "triangle", symbolSize: [5, 7], z: 3, itemStyle: { color: BLACK }, data: arrows });
    series.push({ type: "scatter", xAxisIndex: gi, yAxisIndex: gi, silent: true, symbol: "circle", symbolSize: [blob[0], blob[1]], symbolRotate: blob[2], z: 4, itemStyle: { color: "#ffff00" }, data: [[0, 0]] });
    series.push({ type: "line", xAxisIndex: gi, yAxisIndex: gi, silent: true, showSymbol: false, z: 5, lineStyle: { color: "#ffff00", width: 1 }, data: traj });
    series.push({ type: "scatter", xAxisIndex: gi, yAxisIndex: gi, silent: true, symbol: "circle", symbolSize: 12, z: 6, itemStyle: { color: BLACK }, data: [[0, 0]] });
    frame(rect[0], rect[1], rect[2], rect[3]);
  };

  // Frames
  const box = (y: number, h: number, title: string, gapEnd: number) => {
    g.push({ type: "rect", silent: true, z: 1, shape: { x: 5, y, width: 662.5, height: h, r: 11 }, style: { fill: "none", stroke: "#808080", lineWidth: 2.5 } });
    g.push({ type: "rect", silent: true, z: 2, shape: { x: 16, y: y - 4, width: gapEnd - 16, height: 8 }, style: { fill: "#fff" } });
    g.push({ type: "text", silent: true, z: 3, x: 25, y: y - 0.5, style: { text: title, fontFamily: FONT, fontSize: FS, fill: "#808080", textAlign: "left", textVerticalAlign: "middle" } });
  };
  box(13, 408, "Original data", 180);
  box(455, 771.5, "Inferred model", 199);

  text("A", 30, 60, 29, { fontWeight: "bold" });
  text("B", 30, 509, 29, { fontWeight: "bold" });
  text("C", 30, 861, 29, { fontWeight: "bold" });

  heat([87, 83, 301, 148], heatA, heatAShift);
  fc([457, 83, 148, 148], fcA, [609, 113, 14, 90]);
  traces([87, 278, 301, 90], [
    { name: "R1", level: 40, values: aR1, color: blue },
    { name: "R2", level: 20, values: aR2, color: orange },
  ]);

  heat([87, 887, 301, 147], heatC, heatCShift);
  fc([457, 887, 148, 147], fcC, [609, 916, 14, 89]);
  traces([87, 1082, 301, 89], [
    { name: "Input", level: 69, values: cIn, color: "#000" },
    { name: "R1", level: 39, values: cR1, color: blue },
    { name: "R2", level: 20, values: cR2, color: orange },
  ]);

  const LG = echarts.graphic.LinearGradient, RG = echarts.graphic.RadialGradient;
  const row1 = 518, row2 = 653, side = 108, c1 = 107, c2 = 323, c3 = 538;
  phase([c1, row1, side, side], new LG(0.32, 0, 0.68, 1, stops([[0, "#f0aaa0"], [0.2, "#e3a0ae"], [0.47, "#ae80d2"], [0.75, "#e9a8a6"], [1, "#fdcb8e"]])), streamR1x1x2, trajR1x1x2, [62, 20, 6], null, "2");
  phase([c2, row1, side, side], new LG(0, 0, 0, 1, stops([[0, "#f2b0a0"], [0.5, "#a87fd2"], [1, "#f2b0a0"]])), streamR1x1x3, trajR1x1x3, [76, 9, 0], null, "3");
  phase([c3, row1, side, side], new RG(0.5, 0.5, 0.72, stops([[0, "#a87fd2"], [0.5, "#dc9cb8"], [1, "#fcc79a"]])), streamR1x2x3, trajR1x2x3, [26, 20, 0], null, "3");
  phase([c1, row2, side, side], new LG(0.36, 0, 0.64, 1, stops([[0, "#f6f0a0"], [0.28, "#f6c09c"], [0.48, "#ae80d2"], [0.72, "#f6c09c"], [1, "#f6f89c"]])), streamR2x1x2, trajR2x1x2, [62, 20, 0], "1", "2");
  phase([c2, row2, side, side], new RG(0.5, 0.5, 0.72, stops([[0, "#a87fd2"], [0.5, "#dc9cb8"], [1, "#fdc99c"]])), streamR2x1x3, trajR2x1x3, [62, 14, 0], "1", "3");
  phase([c3, row2, side, side], new RG(0.5, 0.5, 0.72, stops([[0, "#a87fd2"], [0.5, "#dc9cb8"], [1, "#fdc99c"]])), streamR2x2x3, trajR2x2x3, [26, 22, 0], "2", "3");

  // Region badges
  [[row1, "R1", blue], [row2, "R2", orange]].forEach(([y, t, c]: any) => {
    g.push({ type: "rect", silent: true, z: 20, shape: { x: 104, y: y - 3, width: 48, height: 38 }, style: { fill: "rgba(244,244,244,0.88)", stroke: "#444", lineWidth: 2.5 } });
    text(t, 128, y + 16, FS, { fill: c });
  });

  // Markers for the two regions, and the scale bars
  [[172, 190], [974, 992]].forEach(([a, b]) => {
    g.push({ type: "polygon", silent: true, z: 11, shape: { points: [[76, a - 7], [86, a], [76, a + 7]] }, style: { fill: blue } });
    g.push({ type: "polygon", silent: true, z: 11, shape: { points: [[76, b - 7], [86, b], [76, b + 7]] }, style: { fill: orange } });
  });
  [[292, 275], [1070, 1054]].forEach(([y, ty]) => {
    g.push({ type: "rect", silent: true, z: 11, shape: { x: 105, y, width: 27, height: 6 }, style: { fill: BLACK } });
    text("60 s", 118, ty, FS);
  });

  return {
    animation: false,
    backgroundColor: "#fff",
    grid, xAxis, yAxis, series,
    graphic: { elements: g },
    visualMap: [
      { show: false, type: "continuous", min: 0, max: 9, dimension: 2, seriesIndex: heatIdx, inRange: { color: magma } },
      { show: false, type: "continuous", min: -1, max: 1, dimension: 2, seriesIndex: bwrIdx, inRange: { color: bwr } },
    ],
  };
}

export default function App() {
  const ref = useRef<HTMLDivElement>(null);
  useEffect(() => {
    const chart = echarts.init(ref.current!, null, { renderer: "svg" });
    chart.setOption(buildOption() as any);
    return () => chart.dispose();
  }, []);
  return <div ref={ref} style={{ position: "absolute", left: 0, top: 0, width: 672, height: 1232 }} />;
}
